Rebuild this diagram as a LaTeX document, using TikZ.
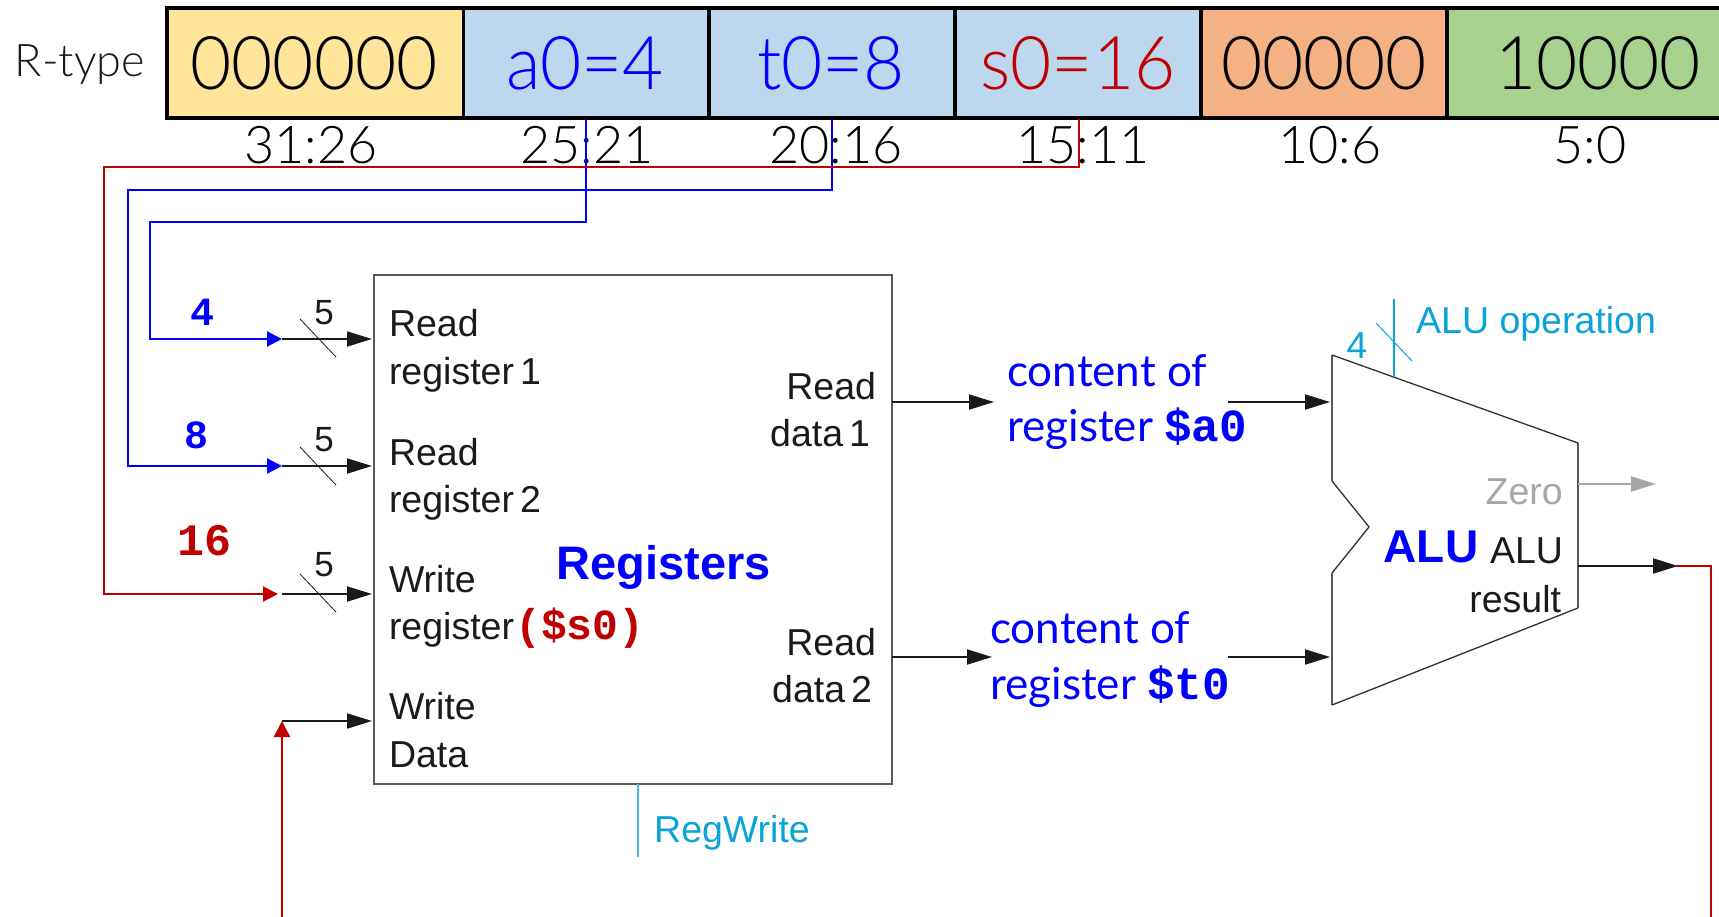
\documentclass[tikz,border=0pt]{standalone}
\usepackage{fontspec}
\setmainfont{Liberation Sans}
\newfontfamily\lightf{Lato Light}
\newfontfamily\cellf[FakeStretch=0.96]{Lato Light}
\newfontfamily\latof{Lato}
\newfontfamily\monof{Liberation Mono}
\usetikzlibrary{arrows.meta,calc}
\definecolor{rred}{HTML}{C00000}
\definecolor{ablue}{HTML}{0000FF}
\definecolor{ctl}{HTML}{0AA3D8}
\definecolor{ctlline}{HTML}{4DB8E8}
\definecolor{ink}{HTML}{1A1A1A}
\definecolor{edge}{HTML}{595959}
\definecolor{zgray}{HTML}{A6A6A6}
\definecolor{cyel}{HTML}{FFE499}
\definecolor{cblu}{HTML}{BDD7EE}
\definecolor{cora}{HTML}{F4B183}
\definecolor{cgre}{HTML}{A9D18E}
\newcommand{\fs}[1]{\fontsize{#1}{#1}\selectfont}
\newcommand{\gap}{\hspace{6pt}}
\tikzset{
  txt/.style={inner sep=0pt,outer sep=0pt,anchor=base west,text=ink,font=\fs{37.5}},
  txtr/.style={txt,anchor=base east},
  cellt/.style={inner sep=0pt,anchor=base,font=\fs{74}\cellf},
  bits/.style={inner sep=0pt,anchor=base,text=black,font=\fs{52}\lightf},
  num/.style={inner sep=0pt,anchor=base,font=\fs{40}\monof\bfseries},
  cont/.style={inner sep=0pt,anchor=base west,text=ablue,font=\fs{44}\latof},
  wire/.style={line width=2pt,draw=ink,-{Triangle[length=25pt,width=15pt]}},
  bw/.style={line width=2.2pt,draw=ablue,-{Triangle[length=15pt,width=15pt]}},
  rw/.style={line width=2.2pt,draw=rred,-{Triangle[length=15pt,width=15pt]}},
  slash/.style={line width=0.8pt,draw=ink},
  cellb/.style={line width=3.5pt,draw=black},
}
\begin{document}
\begin{tikzpicture}[x=1pt,y=-1pt]
\useasboundingbox (0,0) rectangle (1719,917);
% instruction band
\fill[cyel] (167,8) rectangle (463.5,118);
\fill[cblu] (463.5,8) rectangle (1201,118);
\fill[cora] (1201,8) rectangle (1447,118);
\fill[cgre] (1447,8) rectangle (1719,118);
\draw[cellb] (1719,8) -- (167,8) -- (167,118) -- (1719,118);
\foreach \x in {463.5,709,955,1201,1447} \draw[cellb] (\x,8) -- (\x,118);
\node[inner sep=0pt,anchor=base,text=ink,font=\fs{45}\lightf] (rtype) at (80,77) {R-type};
\node[cellt,text=black] (f1) at (314,90) {000000};
\node[cellt,text=ablue] (f2) at (585,90) {a0=4};
\node[cellt,text=ablue] (f3) at (831,90) {t0=8};
\node[cellt,text=rred] (f4) at (1078,90) {s0=16};
\node[cellt,text=black] (f5) at (1324,90) {00000};
\node[cellt,text=black] (f6) at (1598,90) {10000};
\node[bits] (b1) at (311,164) {31:26};
\node[bits] (b2) at (587,164) {25:21};
\node[bits] (b3) at (836,164) {20:16};
\node[bits] (b4) at (1083,164) {15:11};
\node[bits] (b5) at (1330,164) {10:6};
\node[bits] (b6) at (1590,164) {5:0};
% register file
\node[draw=edge,line width=1.6pt,inner sep=0pt,outer sep=0pt,minimum width=518pt,minimum height=509pt,anchor=north west] (reg) at (374,275) {};
\node[inner sep=0pt,anchor=base,text=ablue,font=\fs{47}\bfseries] (regt) at (664,579) {Registers};
\node[txt] (r1a) at (389,337) {Read};
\node[txt] (r1b) at (389,384) {register\gap 1};
\node[txt] (r2a) at (389,465) {Read};
\node[txt] (r2b) at (389,512) {register\gap 2};
\node[txt] (w1a) at (389,592) {Write};
\node[txt] (w1b) at (389,639) {register};
\node[inner sep=0pt,anchor=base west,text=rred,font=\fs{43}\monof\bfseries] (s0) at (515,639) {(\$s0)};
\node[txt] (w2a) at (389,719) {Write};
\node[txt] (w2b) at (389,767) {Data};
\node[txtr] (d1a) at (876,399) {Read};
\node[txtr] (d1b) at (870,446) {data\gap 1};
\node[txtr] (d2a) at (876,655) {Read};
\node[txtr] (d2b) at (872,702) {data\gap 2};
% pins
\coordinate (p1) at (282,339);
\coordinate (p2) at (282,466);
\coordinate (p3) at (278,594);
\coordinate (p3s) at (282,594);
\coordinate (p4) at (282,721);
% field wires
\coordinate (a0top) at (586,119);
\coordinate (a0k1) at (586,222);
\coordinate (a0k2) at (150,222);
\coordinate (t0top) at (832,119);
\coordinate (t0k1) at (832,190);
\coordinate (t0k2) at (128,190);
\coordinate (s0top) at (1079,119);
\coordinate (s0k1) at (1079,167);
\coordinate (s0k2) at (104,167);
\draw[bw] (a0top) -- (a0k1) -- (a0k2) -- (a0k2 |- p1) -- (p1);
\draw[bw] (t0top) -- (t0k1) -- (t0k2) -- (t0k2 |- p2) -- (p2);
\draw[rw] (s0top) -- (s0k1) -- (s0k2) -- (s0k2 |- p3) -- (p3);
\node[num,text=ablue] (n4) at (202,326) {4};
\node[num,text=ablue] (n8) at (196,448) {8};
\node[num,text=rred,font=\fs{45}\monof\bfseries] (n16) at (205,555) {16};
% inputs of the register file
\draw[wire,shorten >=2pt] (p1) -- (p1 -| reg.west);
\draw[wire,shorten >=2pt] (p2) -- (p2 -| reg.west);
\draw[wire,shorten >=2pt] (p3s) -- (p3s -| reg.west);
\draw[wire,shorten >=2pt] (p4) -- (p4 -| reg.west);
\coordinate (wbot) at (282,917);
\draw[rred,line width=2.4pt,-{Triangle[length=16pt,width=16pt]}] (wbot) -- (p4);
\foreach \y/\b in {339/325,467/451,594/576} {
  \draw[slash] (300,\y-20) -- (336,\y+18);
  \node[inner sep=0pt,anchor=base,text=ink,font=\fs{35}] at (324,\b) {5};
}
% outputs
\node[cont] (c1a) at (1007,386) {content of};
\node[cont] (c1b) at (1007,441) {register \fs{46}\monof\bfseries\$a0};
\node[cont] (c2a) at (990,643) {content of};
\node[cont] (c2b) at (990,699) {register \fs{46}\monof\bfseries\$t0};
\coordinate (o1) at (892,402);
\coordinate (o2) at (892,657);
\coordinate (m1) at (1228,402);
\coordinate (m2) at (1228,657);
\draw[wire] (o1) -- (994,402);
\draw[wire] (o2) -- (992,657);
% ALU
\coordinate (aA) at (1332,355);
\coordinate (aB) at (1578,443);
\coordinate (aC) at (1578,608);
\coordinate (aD) at (1332,705);
\coordinate (aE) at (1332,573);
\coordinate (aF) at (1369,527);
\coordinate (aG) at (1332,481);
\path[fill=white] (aA) -- (aB) -- (aC) -- (aD) -- (aE) -- (aF) -- (aG) -- cycle;
\draw[edge,line width=1.6pt] (aD) -- (aE) (aG) -- (aA) (aB) -- (aC);
\draw[ink!90,line width=1.3pt] (aA) -- (aB) (aC) -- (aD) (aE) -- (aF) -- (aG);
\draw[wire,shorten >=2pt] (m1) -- (m1 -| aA);
\draw[wire,shorten >=2pt] (m2) -- (m2 -| aA);
\node[inner sep=0pt,anchor=base east,text=zgray,font=\fs{37.5}] (zero) at (1563,504) {Zero};
\node[txtr] (alur1) at (1563,563) {ALU};
\node[txtr] (alur2) at (1561,612) {result};
\node[inner sep=0pt,anchor=base,text=ablue,font=\fs{46}\bfseries] (alub) at (1431,562) {ALU};
\coordinate (zs) at (1578,484);
\coordinate (ze) at (1656,484);
\coordinate (rs) at (1578,566);
\coordinate (re) at (1678,566);
\coordinate (rcor) at (1711,566);
\coordinate (rbot) at (1711,917);
\draw[zgray,line width=2pt,-{Triangle[length=25pt,width=15pt]}] (zs) -- (ze);
\draw[rred,line width=2.6pt] (1676,566) -- (rcor) -- (rbot);
\draw[wire] (rs) -- (re);
% controls
\coordinate (opt) at (1394,299);
\coordinate (opb) at (1394,377);
\draw[ctl,line width=1.8pt] (opt) -- (opb);
\draw[ctl,line width=1pt] (1376,323) -- (1412,361);
\node[inner sep=0pt,anchor=base,text=ctl,font=\fs{37.5}] (four) at (1357,358) {4};
\node[inner sep=0pt,anchor=base west,text=ctl,font=\fs{37.5}] (aluop) at (1416,334) {ALU operation};
\coordinate (rwb) at (638,857);
\draw[ctlline,line width=1.6pt] (reg.south -| rwb) -- (rwb);
\node[inner sep=0pt,anchor=base west,text=ctl,font=\fs{37.5}] (rwt) at (654,842) {RegWrite};
\end{tikzpicture}
\end{document}
